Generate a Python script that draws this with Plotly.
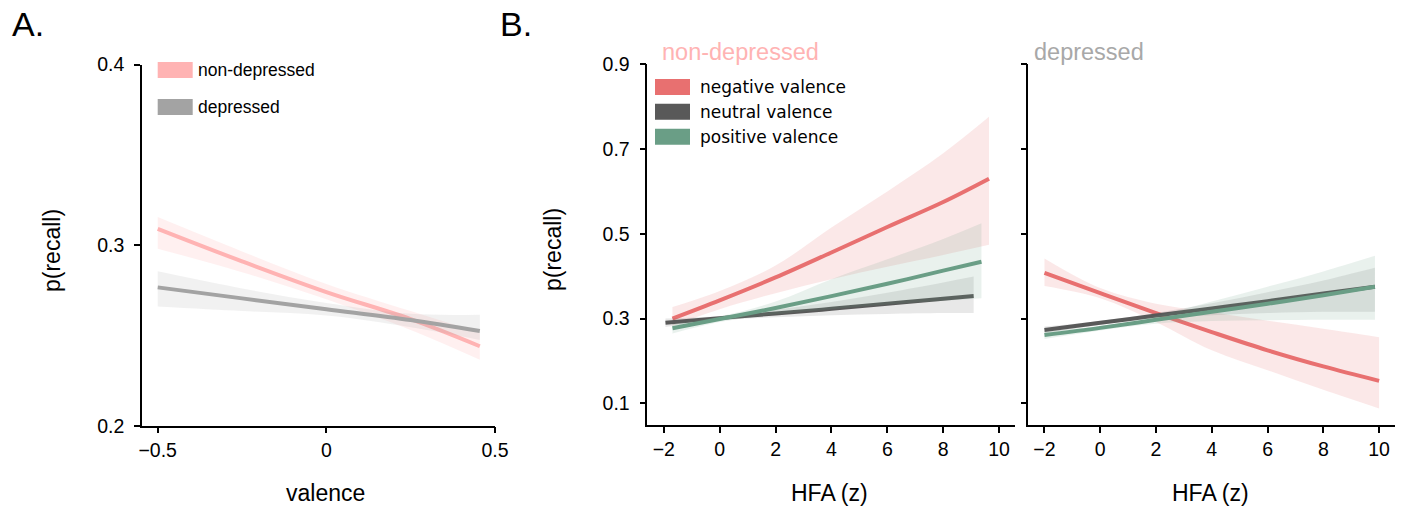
import plotly.graph_objects as go

W, H = 1406, 512

# ---------------- Panel A: recall vs valence ----------------
valence = [-0.5, -0.25, 0.0, 0.25, 0.455]
nondep_mean = [0.309, 0.291, 0.274, 0.259, 0.244]
nondep_upper = [0.3155, 0.2965, 0.2785, 0.2635, 0.2515]
nondep_lower = [0.298, 0.285, 0.270, 0.253, 0.2365]
dep_mean = [0.2766, 0.2705, 0.2645, 0.2585, 0.2524]
dep_upper = [0.2855, 0.276, 0.268, 0.262, 0.2615]
dep_lower = [0.266, 0.2635, 0.261, 0.2545, 0.2475]

# ---------------- Panel B: recall vs HFA, non-depressed ----------------
nd_neg_x = [-1.69, 0, 2, 4, 6, 8, 9.64]
nd_neg_mean = [0.300, 0.343, 0.397, 0.456, 0.516, 0.575, 0.630]
nd_neg_upper = [0.327, 0.365, 0.425, 0.515, 0.600, 0.690, 0.776]
nd_neg_lower = [0.283, 0.322, 0.360, 0.393, 0.422, 0.450, 0.474]

nd_neu_x = [-1.94, 0, 2, 4, 6, 8, 9.09]
nd_neu_mean = [0.290, 0.301, 0.312, 0.323, 0.335, 0.347, 0.353]
nd_neu_upper = [0.300, 0.306, 0.321, 0.339, 0.361, 0.385, 0.399]
nd_neu_lower = [0.280, 0.296, 0.303, 0.308, 0.311, 0.313, 0.313]

nd_pos_x = [-1.69, 0, 2, 4, 6, 8, 9.37]
nd_pos_mean = [0.277, 0.299, 0.325, 0.353, 0.382, 0.413, 0.434]
nd_pos_upper = [0.288, 0.305, 0.340, 0.393, 0.440, 0.488, 0.525]
nd_pos_lower = [0.265, 0.292, 0.310, 0.322, 0.333, 0.342, 0.348]

# ---------------- Panel B: recall vs HFA, depressed ----------------
d_neg_x = [-2, 0, 2, 4, 6, 8, 10.0]
d_neg_mean = [0.408, 0.360, 0.313, 0.268, 0.225, 0.187, 0.153]
d_neg_upper = [0.442, 0.372, 0.335, 0.315, 0.295, 0.276, 0.256]
d_neg_lower = [0.377, 0.348, 0.292, 0.225, 0.178, 0.132, 0.088]

d_neu_x = [-2, 0, 2, 4, 6, 8, 9.85]
d_neu_mean = [0.273, 0.290, 0.307, 0.324, 0.341, 0.359, 0.375]
d_neu_upper = [0.281, 0.294, 0.313, 0.336, 0.362, 0.390, 0.420]
d_neu_lower = [0.265, 0.285, 0.300, 0.308, 0.313, 0.316, 0.316]

d_pos_x = [-2, 0, 2, 4, 6, 8, 9.85]
d_pos_mean = [0.261, 0.278, 0.297, 0.316, 0.335, 0.355, 0.375]
d_pos_upper = [0.270, 0.283, 0.306, 0.340, 0.375, 0.411, 0.448]
d_pos_lower = [0.252, 0.272, 0.288, 0.294, 0.296, 0.297, 0.297]

# colours
PINK = "#ffb3b3"
GREY = "#a3a3a3"
NEG = "#e87070"
NEU = "#595959"
POS = "#6a9e86"

FONT = "Liberation Sans, Arial, Helvetica, sans-serif"


def rgba(hex_color, a):
    h = hex_color.lstrip("#")
    r, g, b = int(h[0:2], 16), int(h[2:4], 16), int(h[4:6], 16)
    return f"rgba({r},{g},{b},{a})"


fig = go.Figure()


def add_series(x, mean, upper, lower, color, fill_alpha, xa, ya, width=4):
    # confidence band: lower edge, then upper edge filled down to it
    fig.add_trace(go.Scatter(
        x=x, y=lower, mode="lines", line=dict(width=0, shape="spline"),
        hoverinfo="skip", showlegend=False, xaxis=xa, yaxis=ya,
    ))
    fig.add_trace(go.Scatter(
        x=x, y=upper, mode="lines", line=dict(width=0, shape="spline"),
        fill="tonexty", fillcolor=rgba(color, fill_alpha),
        hoverinfo="skip", showlegend=False, xaxis=xa, yaxis=ya,
    ))
    fig.add_trace(go.Scatter(
        x=x, y=mean, mode="lines",
        line=dict(color=color, width=width, shape="spline"),
        showlegend=False, xaxis=xa, yaxis=ya,
    ))


# Panel A
add_series(valence, nondep_mean, nondep_upper, nondep_lower, PINK, 0.2, "x", "y")
add_series(valence, dep_mean, dep_upper, dep_lower, GREY, 0.15, "x", "y")

# Panel B, non-depressed
add_series(nd_neg_x, nd_neg_mean, nd_neg_upper, nd_neg_lower, NEG, 0.16, "x2", "y2")
add_series(nd_neu_x, nd_neu_mean, nd_neu_upper, nd_neu_lower, NEU, 0.14, "x2", "y2")
add_series(nd_pos_x, nd_pos_mean, nd_pos_upper, nd_pos_lower, POS, 0.15, "x2", "y2")

# Panel B, depressed
add_series(d_neg_x, d_neg_mean, d_neg_upper, d_neg_lower, NEG, 0.16, "x3", "y3")
add_series(d_neu_x, d_neu_mean, d_neu_upper, d_neu_lower, NEU, 0.14, "x3", "y3")
add_series(d_pos_x, d_pos_mean, d_pos_upper, d_pos_lower, POS, 0.15, "x3", "y3")


def px(v):
    return v / W


def py(v):
    return 1 - v / H


axis_common = dict(
    showline=True, linecolor="black", linewidth=1.5,
    ticks="outside", ticklen=6, tickwidth=1.5, tickcolor="black",
    showgrid=False, zeroline=False,
    tickfont=dict(family=FONT, size=19.5, color="black"),
)
yaxis_common = dict(axis_common, ticklabelstandoff=6)

A_y = [py(425.7), py(64.5)]
B_y = [py(425), py(64.3)]

fig.update_layout(
    width=W, height=H,
    margin=dict(l=0, r=0, t=0, b=0, autoexpand=False),
    paper_bgcolor="white", plot_bgcolor="white",
    showlegend=False,
    xaxis=dict(domain=[px(142), px(495)], range=[-0.5466, 0.5],
               tickvals=[-0.5, 0, 0.5], anchor="y", **axis_common),
    yaxis=dict(domain=A_y, range=[0.2, 0.4],
               tickvals=[0.2, 0.3, 0.4], anchor="x", **yaxis_common),
    xaxis2=dict(domain=[px(647.3), px(1015)], range=[-2.59, 10.57],
                tickvals=[-2, 0, 2, 4, 6, 8, 10], anchor="y2", **axis_common),
    yaxis2=dict(domain=B_y, range=[0.0488, 0.9],
                tickvals=[0.1, 0.3, 0.5, 0.7, 0.9], anchor="x2", **yaxis_common),
    xaxis3=dict(domain=[px(1028.3), px(1395)], range=[-2.58, 10.57],
                tickvals=[-2, 0, 2, 4, 6, 8, 10], anchor="y3", **axis_common),
    yaxis3=dict(domain=B_y, range=[0.0488, 0.9],
                tickvals=[0.1, 0.3, 0.5, 0.7, 0.9], showticklabels=False,
                anchor="x3", **yaxis_common),
)


def text(s, x, y, size, color="black", xanchor="center", angle=0, family=FONT):
    fig.add_annotation(
        text=s, x=px(x), y=py(y), xref="paper", yref="paper",
        xanchor=xanchor, yanchor="middle", showarrow=False, textangle=angle,
        font=dict(family=family, size=size, color=color),
    )


def swatch(x0, x1, y0, y1, color):
    fig.add_shape(type="rect", xref="paper", yref="paper",
                  x0=px(x0), x1=px(x1), y0=py(y1), y1=py(y0),
                  fillcolor=color, line=dict(width=0))


# panel letters
text("A.", 10, 24, 34, xanchor="left")
text("B.", 498, 24, 34, xanchor="left")

# axis titles
text("valence", 325, 493, 23)
text("p(recall)", 52, 251, 23, angle=-90)
text("HFA (z)", 829, 493, 23)
text("HFA (z)", 1210, 493, 23)
text("p(recall)", 553, 250, 23, angle=-90)

# group titles
text("non-depressed", 660, 52, 23.5, color=PINK, xanchor="left")
text("depressed", 1032, 52, 23.5, color="#a8a8a8", xanchor="left")

# legend, panel A
swatch(157.7, 192.7, 62, 78, PINK)
text("non-depressed", 196, 70, 17.5, xanchor="left")
swatch(157.7, 192.7, 99, 115, GREY)
text("depressed", 196, 107, 17.5, xanchor="left")

# legend, panel B
LEG_FONT = "DejaVu Sans, Verdana, sans-serif"
for label, color, yc in [("negative valence", NEG, 87),
                         ("neutral valence", NEU, 111.7),
                         ("positive valence", POS, 136.7)]:
    swatch(655, 690, yc - 8, yc + 8, color)
    text(label, 698, yc, 17, xanchor="left", family=LEG_FONT)

fig.write_html("out.html")
